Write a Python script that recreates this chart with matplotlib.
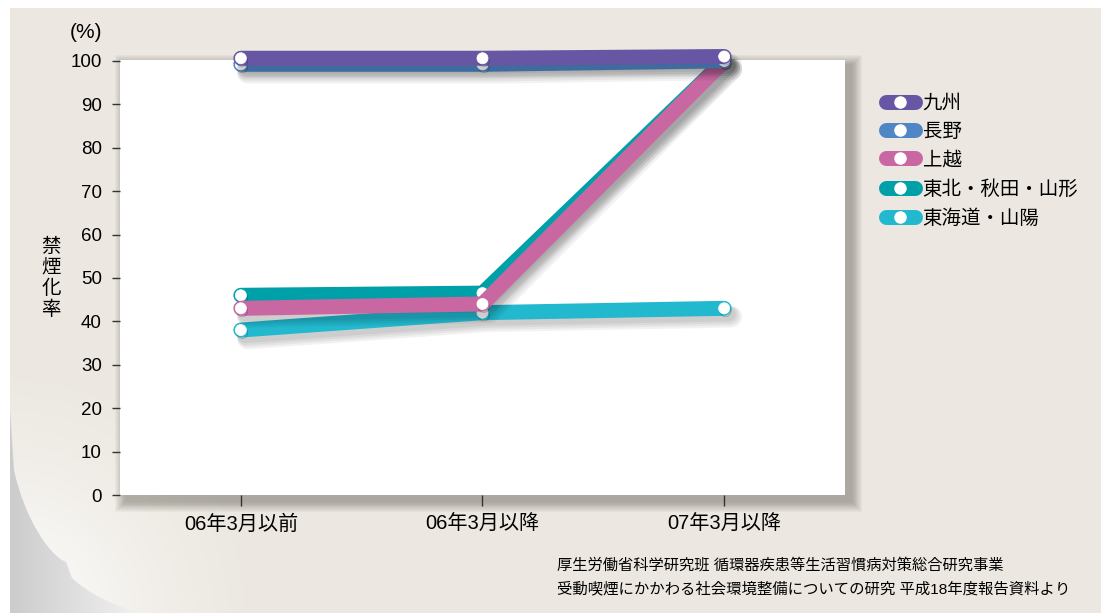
import numpy as np
import matplotlib
matplotlib.use("Agg")
import matplotlib.pyplot as plt
from matplotlib.patches import Rectangle, Polygon, PathPatch
from matplotlib.path import Path
from matplotlib.lines import Line2D
import matplotlib.patheffects as pe

plt.rcParams['font.family'] = ['Liberation Sans', 'Noto Sans CJK JP', 'DejaVu Sans']

# ---------------- data ----------------
categories = ['06年3月以前', '06年3月以降', '07年3月以降']
series_names = ['九州', '長野', '上越', '東北・秋田・山形', '東海道・山陽']
kyushu = [100.6, 100.6, 101.0]
nagano = [99.2, 99.2, 100.0]
joetsu = [43.0, 44.0, 100.0]
tohoku = [46.0, 46.5, 100.0]
tokaido = [38.0, 42.0, 43.0]
yticks = [0, 10, 20, 30, 40, 50, 60, 70, 80, 90, 100]
colors = ['#6656a3', '#5086c6', '#c967a3', '#00a0a9', '#22b9cf']
ylabel_chars = ['禁', '煙', '化', '率']
source_lines = ['厚生労働省科学研究班 循環器疾患等生活習慣病対策総合研究事業',
                '受動喫煙にかかわる社会環境整備についての研究 平成18年度報告資料より']

W, H = 1101, 613
fig = plt.figure(figsize=(W / 100, H / 100), dpi=100, facecolor='white')

# ---------------- background (pixel coords) ----------------
bg = fig.add_axes([0, 0, 1, 1], zorder=-10)
bg.set_xlim(0, W)
bg.set_ylim(H, 0)
bg.axis('off')

beige = np.array([236, 232, 225]) / 255.0

yy, xx = np.mgrid[0:H, 0:W]
g = np.clip((xx - 10) / 150.0, 0, 1)
gray_img = np.zeros((H, W, 3))
for c in range(3):
    gray_img[..., c] = 0.80 + 0.17 * g
gray_poly = Polygon([(10, 380), (10, 613), (200, 613), (200, 380)], closed=True,
                    facecolor='none', edgecolor='none')
bg.add_patch(gray_poly)
im1 = bg.imshow(gray_img, extent=(0, W, H, 0), zorder=1)
im1.set_clip_path(gray_poly)

verts = [(10, 8), (W, 8), (W, H), (140, H),
         (95, 600), (72, 578),
         (66, 562),
         (50, 556), (25, 520), (14, 470), (10, 410),
         (10, 8)]
codes = [Path.MOVETO, Path.LINETO, Path.LINETO, Path.LINETO,
         Path.CURVE3, Path.CURVE3,
         Path.LINETO,
         Path.CURVE4, Path.CURVE4, Path.CURVE4, Path.LINETO,
         Path.CLOSEPOLY]
page_path = Path(verts, codes)
page_patch = PathPatch(page_path, facecolor='none', edgecolor='none')
bg.add_patch(page_patch)
d = np.sqrt(((xx - 10) / 260.0) ** 2 + ((H - yy) / 260.0) ** 2)
t = np.clip(1 - d, 0, 1) ** 1.5
page_img = np.zeros((H, W, 3))
for c in range(3):
    page_img[..., c] = beige[c] * (1 - t) + 1.0 * t
im2 = bg.imshow(page_img, extent=(0, W, H, 0), zorder=2)
im2.set_clip_path(page_patch)

# plot area shadow
L, T, R, B = 120, 60, 845, 495
for s in range(12, 0, -1):
    bg.add_patch(Rectangle((L + 6 - s * 0.9, T + 6 - s * 0.9),
                           (R - L) + 2 * s * 0.9, (B - T) + 2 * s * 0.9,
                           facecolor='#6e6a60', edgecolor='none',
                           alpha=0.05, zorder=3))

# y label: stacked characters
for k, ch in enumerate(ylabel_chars):
    bg.text(51, 246.5 + 21 * k, ch, fontsize=14, ha='center', va='center',
            family=['Noto Sans CJK JP'], zorder=5)

# ---------------- main axes ----------------
ax = fig.add_axes([L / W, 1 - B / H, (R - L) / W, (B - T) / H], zorder=1)
ax.set_facecolor('white')
x = np.arange(len(categories))
ax.set_xlim(-0.5, 2.5)
ax.set_ylim(0, 100.2)
for sp in ax.spines.values():
    sp.set_visible(False)

lw = 10.8
shadow = [pe.SimpleLineShadow(offset=(3 + k * 0.7, -4 - k * 0.7), shadow_color='#000000',
                              alpha=0.05, rho=0.3, linewidth=lw + 1.6 * k)
          for k in range(4)] + [pe.Normal()]
mshadow = [pe.SimpleLineShadow(offset=(1, -2), shadow_color='#000000',
                               alpha=0.25, rho=0.3), pe.Normal()]

data = [kyushu, nagano, joetsu, tohoku, tokaido]
n = len(data)
for i in range(n - 1, -1, -1):
    z = 3 + 2 * (n - i)
    ax.plot(x, data[i], color=colors[i], lw=lw, solid_capstyle='round',
            solid_joinstyle='round', clip_on=False, zorder=z, path_effects=shadow)
    ax.plot(x, data[i], linestyle='none', marker='o', markersize=8,
            markerfacecolor='white', markeredgecolor='white', markeredgewidth=0.5,
            clip_on=False, zorder=z + 1, path_effects=mshadow)

ax.set_yticks(yticks)
ax.set_yticklabels([str(v) for v in yticks], fontsize=13.5)
ax.set_xticks(x)
ax.set_xticklabels(categories, fontsize=14.5)
ax.tick_params(axis='y', length=6, width=1, color='#333333', pad=7)
ax.tick_params(axis='x', length=8, width=1, color='#333333', pad=6)

# ---------------- texts ----------------
fig.text(86 / W, 1 - 33 / H, '(%)', fontsize=15, ha='center', va='center')
fig.text(557 / W, 1 - 565 / H, source_lines[0], fontsize=11, ha='left', va='center')
fig.text(557 / W, 1 - 589 / H, source_lines[1], fontsize=11.1, ha='left', va='center')

# ---------------- legend ----------------
handles = [Line2D([0], [0], color=colors[i], lw=lw, solid_capstyle='round',
                  marker='o', markersize=8, markerfacecolor='white',
                  markeredgecolor='white') for i in range(len(series_names))]
fig.legend(handles, series_names, loc='upper left',
           bbox_to_anchor=(876 / W, 1 - 85 / H), frameon=False,
           fontsize=14, handlelength=1.5, handletextpad=0.4,
           labelspacing=0.55, borderpad=0, numpoints=1)

fig.savefig('out.png', dpi=100, facecolor='white')
